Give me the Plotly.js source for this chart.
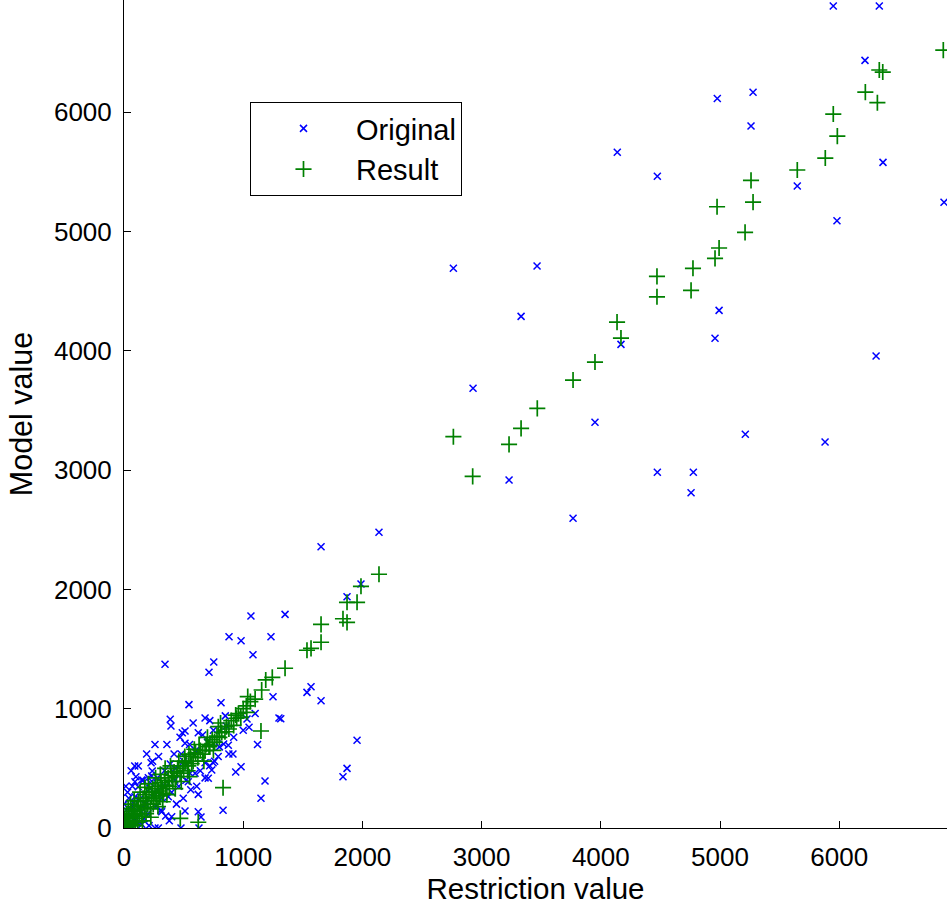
<!DOCTYPE html>
<html><head><meta charset="utf-8">
<script src="https://cdn.plot.ly/plotly-3.0.1.min.js"></script>
<style>html,body{margin:0;padding:0;background:#fff}</style>
</head><body>
<div id="chart" style="width:947px;height:906px"></div>
<script>
// Original (blue x) : restriction value vs model value
const origX = [5950,6336,6216,4977,5277,5260,4138,4474,6367,5648,5981,6879,2763,3465,3331,4992,4958,4169,6309,2928,3951,5212,5881,4474,4776,4757,3230,3767,
  2139,1653,1988,1871,1351,1569,1535,1653,1315,1955,1871,1837,
  1065,881,982,1233,1082,344,753,713,545,814,388,394,680,512,489,623,512,858,1049,1250,1300,836,875,914,982,937,747,227,232,388,1183,1149,831,623,512,646,478,629,
  1032,719,120,92,148,204,237,92,78,148,316,400,218,344,427,539,554,596,680,736,707,623,497,372,8,36,0,288,
  20,50,60,100,150,180,250,270,300,320,280,400,430,460,480,500,560,600,640,700,750,790,170,210,60,100,120,30,260,350,
  40,70,90,130,160,190,220,240,260,290,310,340,360,420,440,470,520,550,580,610,660,680,720,760,800,850,880,920,1000,1100,1120,380,200,140,80,10,0,15];
const origY = [6890,6890,6435,6116,6167,5884,5664,5463,5580,5381,5090,5245,4692,4711,4289,4339,4105,4054,3956,3686,3401,3300,3236,2982,2982,2811,2917,2596,
  2479,2358,2045,1939,1791,1184,1137,1067,916,735,500,430,
  1777,1603,1570,1603,1453,1372,1391,1305,1034,1050,911,855,922,813,799,799,710,855,844,1101,922,704,693,620,514,469,547,547,436,536,394,249,148,282,142,92,0,0,
  914,522,346,388,402,422,478,262,207,137,137,95,333,346,402,388,459,459,547,486,417,137,249,262,95,39,0,0,
  150,100,20,60,30,200,300,180,350,250,420,300,500,350,620,560,320,650,480,720,820,600,80,20,480,430,520,300,0,100,
  250,350,520,240,400,620,380,560,700,600,150,480,700,620,200,760,400,700,880,350,780,420,900,560,680,940,620,760,820,960,700,60,120,40,180,40,200,350];

// Result (green +)
const resX = [6873,6336,6365,6219,6320,5950,5984,5883,5648,5260,5277,4975,5210,4992,4958,4773,4471,4757,4471,4136,4169,3951,3767,3467,3331,3230,2763,2925,
  2139,1988,1871,1955,1837,1871,1653,1653,1569,1535,1351,
  1244,1189,1155,1038,1026,937,945,791,847,713,680,545,512,1149,831,568,534,623,472,
  0,5,10,15,20,25,30,35,40,45,50,55,60,70,75,80,85,90,95,100,110,115,120,130,135,140,150,155,160,170,175,180,185,190,200,205,210,220,225,230,240,245,250,260,265,270,280,285,290,300,305,310,320,325,330,340,345,350,360,370,380,390,400,410,420,430,440,450,460,470,480,490,500,510,520,540,550,560,580,590,600,620,630,640,660,670,690,700,720,740,750,760,780,800,810,820,860,880,900,920,960,980,1000,1030,1060,1100];
const resY = [6521,6354,6337,6169,6080,5985,5800,5616,5516,5429,5247,5208,4993,4862,4775,4692,4624,4507,4453,4241,4107,3906,3755,3518,3350,3216,3280,2948,
  2127,2026,1892,1892,1754,1724,1707,1557,1506,1490,1339,
  1263,1241,1157,1101,1023,947,920,849,807,681,648,620,547,813,338,539,480,48,81,
  30,80,0,50,120,10,20,160,90,40,60,200,140,30,100,110,230,180,20,80,150,50,220,120,300,190,100,60,250,170,340,230,120,280,200,370,300,160,90,260,330,200,230,300,420,250,350,180,310,270,450,380,330,220,290,400,500,360,280,420,350,520,440,390,470,330,430,500,560,460,390,520,480,600,560,520,430,600,560,660,630,590,700,650,620,560,700,760,690,740,650,720,770,760,880,800,850,830,900,860,960,930,1000,970,1060,1080];

const xTicks = [0,1000,2000,3000,4000,5000,6000];
const yTicks = [0,1000,2000,3000,4000,5000,6000];
const seriesNames = ['Original','Result'];

const FONT = 'Liberation Sans, Arial, Helvetica, sans-serif';

const traces = [
  {x: origX, y: origY, name: seriesNames[0], type: 'scatter', mode: 'markers',
   marker: {symbol: 'x-thin', size: 7, color: '#0000ff', line: {width: 1.5, color: '#0000ff'}}, cliponaxis: true},
  {x: resX, y: resY, name: seriesNames[1], type: 'scatter', mode: 'markers',
   marker: {symbol: 'cross-thin', size: 11.5, color: '#008000', line: {width: 1.7, color: '#008000'}}, cliponaxis: true}
];

const axisCommon = {
  showgrid: false, zeroline: false, showline: true, linecolor: '#000', linewidth: 1,
  ticks: 'inside', ticklen: 7, tickwidth: 1, tickcolor: '#000', mirror: false,
  tickfont: {family: FONT, size: 26, color: '#000'}
};

const layout = {
  width: 947, height: 906,
  margin: {l: 124, r: 0, t: 0, b: 78, pad: 0},
  paper_bgcolor: '#fff', plot_bgcolor: '#fff',
  showlegend: true,
  legend: {x: 0.1531, y: 0.8768, xanchor: 'left', yanchor: 'top',
    bordercolor: '#000', borderwidth: 1, bgcolor: '#fff', itemwidth: 95,
    font: {family: FONT, size: 29, color: '#000'}},
  xaxis: Object.assign({}, axisCommon, {range: [0, 6904], tickvals: xTicks, ticktext: xTicks.map(String),
    ticklabelstandoff: 6,
    title: {text: 'Restriction value', font: {family: FONT, size: 29.5, color: '#000'}, standoff: 4}}),
  yaxis: Object.assign({}, axisCommon, {range: [0, 6941], tickvals: yTicks, ticktext: yTicks.map(String),
    ticklabelstandoff: 6,
    title: {text: 'Model value', font: {family: FONT, size: 30.5, color: '#000'}, standoff: 12}})
};

Plotly.newPlot('chart', traces, layout, {displayModeBar: false, staticPlot: true});
</script>
</body></html>
